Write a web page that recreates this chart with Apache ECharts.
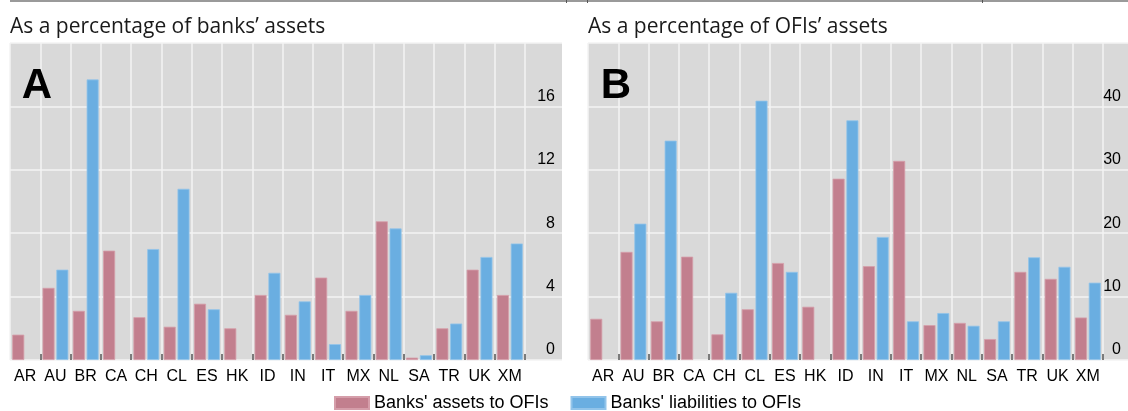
<!DOCTYPE html>
<html>
<head>
<meta charset="utf-8">
<script src="https://cdn.jsdelivr.net/npm/echarts@6/dist/echarts.min.js"></script>
<style>
html,body{margin:0;padding:0;background:#fff;}
#chart{width:1128px;height:411px;}
</style>
</head>
<body>
<div id="chart"></div>
<script>
// ---- data ----
var categories = ['AR','AU','BR','CA','CH','CL','ES','HK','ID','IN','IT','MX','NL','SA','TR','UK','XM'];
var seriesNames = ["Banks' assets to OFIs", "Banks' liabilities to OFIs"];
var panelTitles = ['As a percentage of banks\u2019 assets', 'As a percentage of OFIs\u2019 assets'];
var panelLetters = ['A', 'B'];
// Panel A: % of banks' assets
var assetsA = [1.6, 4.55, 3.1, 6.9, 2.7, 2.1, 3.55, 2.0, 4.1, 2.85, 5.2, 3.1, 8.75, 0.15, 2.0, 5.7, 4.1];
var liabA   = [null, 5.7, 17.7, null, 7.0, 10.8, 3.2, null, 5.5, 3.7, 1.0, 4.1, 8.3, 0.3, 2.3, 6.5, 7.35];
// Panel B: % of OFIs' assets
var assetsB = [6.5, 17.05, 6.1, 16.3, 4.05, 8.0, 15.3, 8.4, 28.6, 14.8, 31.4, 5.5, 5.85, 3.3, 13.9, 12.8, 6.7];
var liabB   = [null, 21.5, 34.6, null, 10.6, 40.9, 13.9, null, 37.8, 19.4, 6.1, 7.4, 5.4, 6.1, 16.2, 14.7, 12.2];
// axis scales
var yAxisA = {min: 0, max: 20, interval: 4};
var yAxisB = {min: 0, max: 50, interval: 10};

// ---- styling ----
var PINK = '#c27f8e', BLUE = '#6aaee1';
var GRAY = '#d9d9d9', GRID = '#f3f3f3';
var TOP = 43, H = 317, BGW = 552, DW = 515;
var lefts = [10, 588];
var labelFont = 'Liberation Sans, Arial, sans-serif';

var chart = echarts.init(document.getElementById('chart'), null, {renderer: 'canvas'});

var grids = [], xAxes = [], yAxes = [], series = [];
var scales = [yAxisA, yAxisB];
var data = [[assetsA, liabA], [assetsB, liabB]];

for (var p = 0; p < 2; p++) {
  grids.push({left: lefts[p], top: TOP, width: BGW, height: H, show: true,
    backgroundColor: GRAY, borderWidth: 0});
  grids.push({left: lefts[p], top: TOP, width: DW, height: H, show: false});
  var bgIdx = p * 2, dIdx = p * 2 + 1;
  xAxes.push({gridIndex: bgIdx, type: 'value', show: false, min: 0, max: 1});
  xAxes.push({gridIndex: dIdx, type: 'category', data: categories, boundaryGap: true,
    axisLine: {show: false},
    axisTick: {show: true, inside: true, length: 6, lineStyle: {color: '#555', width: 1.5},
      interval: function (i) { return i !== 0; }},
    splitLine: {show: true, lineStyle: {color: GRID, width: 1.5}},
    axisLabel: {color: '#000', fontFamily: labelFont, fontSize: 16, margin: 9, interval: 0}
  });
  var s = scales[p];
  yAxes.push({gridIndex: bgIdx, type: 'value', position: 'right', min: s.min, max: s.max,
    interval: s.interval,
    axisLine: {show: false}, axisTick: {show: false},
    splitLine: {show: true, lineStyle: {color: GRID, width: 1.5}},
    axisLabel: {inside: true, margin: 7, showMaxLabel: false, color: '#000',
      fontFamily: labelFont, fontSize: 16, verticalAlign: 'bottom', padding: [0, 0, 2, 0]}
  });
  yAxes.push({gridIndex: dIdx, type: 'value', min: s.min, max: s.max, interval: s.interval,
    show: false, splitLine: {show: false}});
  for (var k = 0; k < 2; k++) {
    series.push({
      name: seriesNames[k], type: 'bar', xAxisIndex: dIdx, yAxisIndex: dIdx,
      data: data[p][k], barWidth: 12, barGap: '15%',
      itemStyle: {color: k === 0 ? PINK : BLUE,
        borderColor: k === 0 ? '#d59eaa' : '#92c4ea', borderWidth: 0.8},
      emphasis: {disabled: true}, animation: false
    });
  }
}

var graphics = [
  {type: 'rect', shape: {x: 10, y: 0, width: 1118, height: 2}, style: {fill: '#9a9a9a'}, silent: true},
  {type: 'rect', shape: {x: 566, y: 0, width: 1, height: 3}, style: {fill: '#555'}, silent: true},
  {type: 'rect', shape: {x: 587, y: 0, width: 1, height: 3}, style: {fill: '#555'}, silent: true},
  {type: 'rect', shape: {x: 982, y: 0, width: 1, height: 3}, style: {fill: '#555'}, silent: true}
];
for (var q = 0; q < 2; q++) {
  graphics.push({type: 'text', x: lefts[q], y: 27, silent: true,
    style: {text: panelTitles[q], fill: '#1a1a1a', font: '21px "Open Sans", "Noto Sans", sans-serif',
      verticalAlign: 'middle', align: 'left'}});
  graphics.push({type: 'text', x: lefts[q] + (q === 0 ? 27 : 28), y: 86, silent: true, z: 10,
    style: {text: panelLetters[q], fill: '#000', font: 'bold 42px "Liberation Sans", Arial, sans-serif',
      verticalAlign: 'middle', align: 'center'}});
}

chart.setOption({
  animation: false,
  grid: grids,
  xAxis: xAxes,
  yAxis: yAxes,
  series: series,
  legend: {
    left: 329, top: 389, itemWidth: 34, itemHeight: 12, itemGap: 22,
    data: seriesNames, selectedMode: false,
    textStyle: {color: '#000', fontFamily: labelFont, fontSize: 18},
    icon: 'rect'
  },
  graphic: graphics
});
</script>
</body>
</html>
